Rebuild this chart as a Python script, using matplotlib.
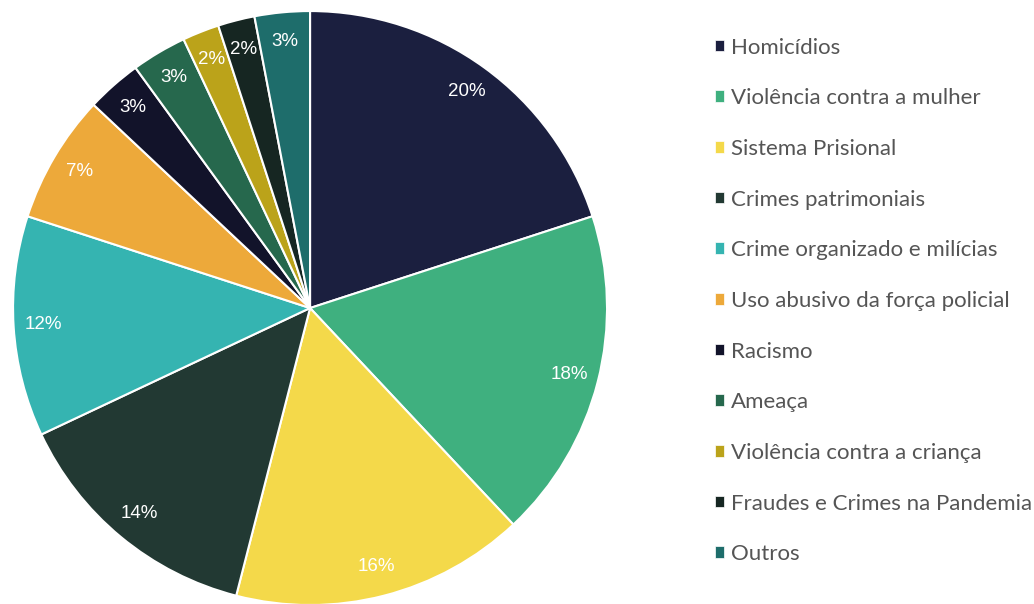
import matplotlib.pyplot as plt

categories = ["Homicídios", "Violência contra a mulher", "Sistema Prisional",
              "Crimes patrimoniais", "Crime organizado e milícias",
              "Uso abusivo da força policial", "Racismo", "Ameaça",
              "Violência contra a criança", "Fraudes e Crimes na Pandemia",
              "Outros"]
shares = [20, 18, 16, 14, 12, 7, 3, 3, 2, 2, 3]
colors = ["#1b1f3f", "#3fb07f", "#f4d94a", "#223933", "#35b4b1", "#eda93a",
          "#12132a", "#26684d", "#bba31a", "#162622", "#1e6d6b"]

fig = plt.figure(figsize=(10.34, 6.04), dpi=100)
ax = fig.add_axes([0.0126, -0.0017, 0.5745, 0.9834])

wedges, texts, autotexts = ax.pie(
    shares, colors=colors, startangle=90, counterclock=False,
    autopct=lambda p: f"{p:.0f}%", pctdistance=0.9,
    wedgeprops=dict(edgecolor="white", linewidth=1.5),
    textprops=dict(color="white", fontsize=13.5, family="Liberation Sans"))
ax.set_xlim(-1, 1)
ax.set_ylim(-1, 1)
ax.set_aspect("equal")

fig.legend(wedges, categories, loc="upper left", bbox_to_anchor=(0.672, 0.971),
           frameon=False, handlelength=0.42, handleheight=0.42,
           handletextpad=0.3, labelspacing=1.38,
           prop=dict(family="Lato", size=16), labelcolor="#555555")
for h in fig.legends[0].legend_handles:
    h.set_edgecolor("white")
    h.set_linewidth(0.5)

fig.savefig("out.png", dpi=100)
